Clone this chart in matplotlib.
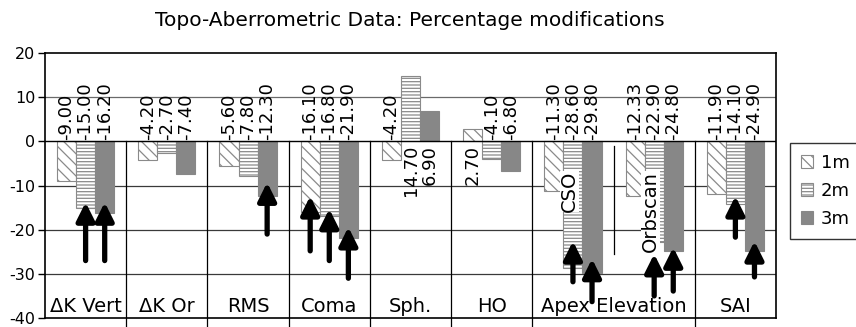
"""Topo-aberrometric percentage changes at 1, 2 and 3 months."""

import matplotlib
matplotlib.use("Agg")
import matplotlib.pyplot as plt
import numpy as np

categories = ["ΔK Vert", "ΔK Or", "RMS", "Coma", "Sph.", "HO", "CSO", "Orbscan", "SAI"]
group_labels = ["ΔK Vert", "ΔK Or", "RMS", "Coma", "Sph.", "HO", "Apex Elevation", "SAI"]
group_centers = [0, 1, 2, 3, 4, 5, 6.5, 8]
series_names = ["1m", "2m", "3m"]
m1 = [-9.00, -4.20, -5.60, -16.10, -4.20, 2.70, -11.30, -12.33, -11.90]
m2 = [-15.00, -2.70, -7.80, -16.80, 14.70, -4.10, -28.60, -22.90, -14.10]
m3 = [-16.20, -7.40, -12.30, -21.90, 6.90, -6.80, -29.80, -24.80, -24.90]
yticks = [20, 10, 0, -10, -20, -30, -40]

# highlighted changes: (category index, series index, arrow tail, arrow tip)
arrows = [
    (0, 1, -27.0, -13.8), (0, 2, -27.0, -13.8),
    (2, 2, -21.0, -9.3),
    (3, 0, -24.8, -12.4), (3, 1, -27.0, -15.3), (3, 2, -31.0, -19.4),
    (6, 1, -31.8, -22.6), (6, 2, -36.3, -26.6),
    (7, 1, -35.0, -25.5), (7, 2, -33.9, -24.0),
    (8, 1, -21.7, -12.4), (8, 2, -30.7, -22.6),
]

plt.rcParams["font.family"] = ["DejaVu Sans"]
plt.rcParams["hatch.linewidth"] = 0.9

fig = plt.figure(figsize=(8.56, 3.27), dpi=100)
ax = fig.add_axes([45 / 856, 1 - 318 / 327, 731 / 856, 265 / 327])

x = np.arange(len(categories))
width = 0.235
styles = [
    dict(facecolor="white", edgecolor="#8a8a8a", hatch="\\\\\\"),
    dict(facecolor="white", edgecolor="#8a8a8a", hatch="-----"),
    dict(facecolor="#878787", edgecolor="#878787", hatch=None),
]
for i, (vals, name, st) in enumerate(zip([m1, m2, m3], series_names, styles)):
    pos = x + (i - 1) * width
    ax.bar(pos, vals, width, label=name, linewidth=0.8, zorder=2, **st)
    for px, v in zip(pos, vals):
        if v < 0:
            ax.text(px, 0.4, f"{v:.2f}", rotation=90, ha="center", va="bottom",
                    fontsize=13, zorder=4)
        else:
            ax.text(px, -0.8, f"{v:.2f}", rotation=90, ha="center", va="top",
                    fontsize=13, zorder=4)

# grid and category separators
ax.axhline(10, color="#6a6a6a", lw=0.9, zorder=1)
for y in [-10, -20, -30]:
    ax.axhline(y, color="#3a3a3a", lw=0.9, zorder=1)
ax.axhline(0, color="black", lw=1.0, zorder=3)
for sep in [0.5, 1.5, 2.5, 3.5, 4.5, 5.5, 7.5]:
    ax.plot([sep, sep], [0, -42.5], color="black", lw=0.9, clip_on=False, zorder=1)
ax.plot([6.5, 6.5], [-1, -25.5], color="black", lw=0.9, zorder=1)

for ci, si, tail, tip in arrows:
    px = x[ci] + (si - 1) * width
    ax.annotate("", xy=(px, tip), xytext=(px, tail),
                arrowprops=dict(arrowstyle="-|>,head_width=0.3,head_length=0.6",
                                lw=3.8, color="black", shrinkA=0, shrinkB=0,
                                mutation_scale=18),
                zorder=5)

ax.text(x[6] - 0.04, -11.3, "CSO", rotation=90, ha="center", va="center", fontsize=14,
        zorder=6, bbox=dict(facecolor="white", edgecolor="none", pad=0))
ax.text(x[7] - 0.05, -15.8, "Orbscan", rotation=90, ha="center", va="center", fontsize=14,
        zorder=6, bbox=dict(facecolor="white", edgecolor="none", pad=0))

for gx, lab in zip(group_centers, group_labels):
    ax.text(gx, -37.3, lab, ha="center", va="center", fontsize=14, zorder=6)

ax.set_xlim(-0.5, len(categories) - 0.5)
ax.set_ylim(-40, 20)
ax.set_yticks(yticks)
ax.set_yticklabels([str(t) for t in yticks], fontsize=11.5)
ax.set_xticks([])
ax.tick_params(axis="y", length=5, width=1, pad=2)
for s in ax.spines.values():
    s.set_linewidth(1.2)

fig.text(410 / 856, 1 - 21 / 327, "Topo-Aberrometric Data: Percentage modifications",
         ha="center", va="center", fontsize=14.5)

fig.legend(loc="upper left", bbox_to_anchor=(790 / 856, 1 - 143 / 327), frameon=True,
           fancybox=False, edgecolor="black", fontsize=13, handlelength=0.7,
           handleheight=0.7, handletextpad=0.4, labelspacing=0.55, borderpad=0.6,
           borderaxespad=0)

fig.savefig("out.png", dpi=100)
